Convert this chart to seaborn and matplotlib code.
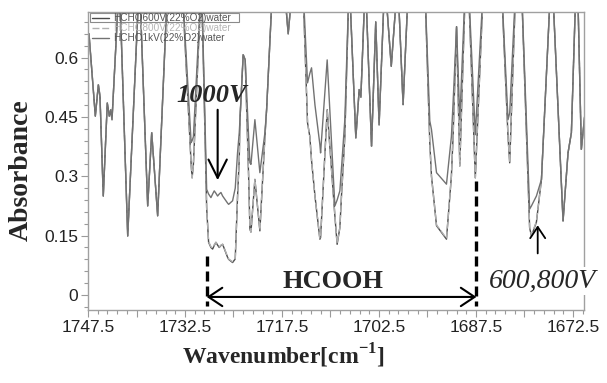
import matplotlib
matplotlib.use("Agg")
import matplotlib.pyplot as plt
from matplotlib.ticker import MultipleLocator, FuncFormatter
from matplotlib.patches import Rectangle
import pandas as pd
import seaborn as sns

# FTIR absorbance spectra of HCHO discharge products (22% O2, water)
wavenumber = [
    1747.35, 1746.37, 1745.90, 1745.65, 1745.14, 1744.52, 1744.21, 1743.99, 1743.79, 1742.65,
    1741.36, 1739.55, 1738.27, 1737.65, 1736.73, 1735.10, 1733.00, 1731.55, 1731.40, 1731.20,
    1729.95, 1729.15, 1728.85, 1728.49, 1728.23, 1727.98, 1727.72, 1727.46, 1727.21, 1726.94,
    1726.68, 1725.91, 1725.75, 1725.14, 1724.73, 1724.37, 1724.11, 1724.00, 1723.50, 1723.19,
    1722.66, 1722.46, 1722.30, 1721.69, 1720.92, 1720.14, 1719.88, 1718.90, 1717.50, 1716.54,
    1715.50, 1714.30, 1713.55, 1713.19, 1712.93, 1712.40, 1711.64, 1711.53, 1710.51, 1709.32,
    1708.97, 1708.55, 1708.30, 1707.78, 1707.10, 1706.08, 1705.56, 1705.30, 1704.60, 1703.65,
    1703.00, 1702.48, 1701.60, 1700.60, 1699.60, 1698.77, 1697.90, 1696.50, 1695.40, 1694.64,
    1694.38, 1693.60, 1692.06, 1691.30, 1691.04, 1690.50, 1690.00, 1689.10, 1688.70, 1687.60,
    1686.30, 1685.00, 1683.60, 1682.54, 1682.28, 1681.30, 1680.50, 1679.20, 1678.92, 1678.15,
    1677.37, 1675.90, 1675.70, 1674.03, 1673.26, 1672.74, 1672.00, 1671.80, 1671.20, 1670.70,
]
abs_600v = [
    0.660, 0.452, 0.531, 0.502, 0.250, 0.485, 0.452, 0.468, 0.443, 0.800,
    0.149, 0.800, 0.225, 0.410, 0.200, 0.820, 0.800, 0.330, 0.296, 0.330,
    0.800, 0.220, 0.133, 0.120, 0.116, 0.125, 0.133, 0.126, 0.120, 0.125,
    0.128, 0.095, 0.090, 0.082, 0.091, 0.250, 0.343, 0.443, 0.607, 0.594,
    0.300, 0.166, 0.159, 0.292, 0.162, 0.400, 0.468, 0.800, 0.850, 0.660,
    0.850, 0.800, 0.435, 0.400, 0.340, 0.250, 0.141, 0.145, 0.468, 0.200,
    0.128, 0.170, 0.250, 0.400, 0.800, 0.397, 0.519, 0.500, 0.800, 0.376,
    0.690, 0.430, 0.800, 0.578, 0.800, 0.481, 0.800, 0.850, 0.780, 0.385,
    0.300, 0.175, 0.141, 0.300, 0.400, 0.678, 0.326, 0.800, 0.800, 0.296,
    0.800, 0.850, 0.800, 0.400, 0.334, 0.800, 0.800, 0.170, 0.149, 0.184,
    0.292, 0.800, 0.800, 0.187, 0.359, 0.410, 0.800, 0.800, 0.368, 0.450,
]
abs_800v = [
    0.660, 0.455, 0.531, 0.505, 0.252, 0.485, 0.452, 0.468, 0.443, 0.800,
    0.152, 0.800, 0.228, 0.410, 0.205, 0.820, 0.800, 0.330, 0.296, 0.330,
    0.800, 0.220, 0.135, 0.122, 0.118, 0.127, 0.133, 0.128, 0.121, 0.126,
    0.128, 0.097, 0.091, 0.084, 0.092, 0.250, 0.343, 0.443, 0.607, 0.594,
    0.300, 0.168, 0.160, 0.292, 0.164, 0.400, 0.468, 0.800, 0.850, 0.660,
    0.850, 0.800, 0.435, 0.400, 0.340, 0.250, 0.143, 0.146, 0.468, 0.202,
    0.130, 0.170, 0.250, 0.400, 0.800, 0.397, 0.519, 0.500, 0.800, 0.376,
    0.690, 0.430, 0.800, 0.578, 0.800, 0.481, 0.800, 0.850, 0.780, 0.385,
    0.300, 0.177, 0.143, 0.300, 0.400, 0.678, 0.326, 0.800, 0.800, 0.296,
    0.800, 0.850, 0.800, 0.400, 0.334, 0.800, 0.800, 0.172, 0.151, 0.186,
    0.292, 0.800, 0.800, 0.189, 0.359, 0.410, 0.800, 0.800, 0.368, 0.450,
]
abs_1kv = [
    0.660, 0.452, 0.531, 0.502, 0.250, 0.485, 0.452, 0.468, 0.443, 0.800,
    0.149, 0.800, 0.225, 0.410, 0.200, 0.820, 0.800, 0.385, 0.390, 0.400,
    0.800, 0.267, 0.255, 0.246, 0.255, 0.263, 0.257, 0.250, 0.255, 0.259,
    0.250, 0.232, 0.229, 0.238, 0.270, 0.360, 0.410, 0.443, 0.607, 0.594,
    0.400, 0.334, 0.330, 0.443, 0.309, 0.410, 0.468, 0.800, 0.850, 0.660,
    0.850, 0.800, 0.536, 0.560, 0.574, 0.480, 0.380, 0.359, 0.594, 0.225,
    0.240, 0.263, 0.320, 0.443, 0.800, 0.397, 0.519, 0.500, 0.800, 0.376,
    0.690, 0.430, 0.800, 0.578, 0.800, 0.481, 0.800, 0.850, 0.780, 0.440,
    0.418, 0.309, 0.280, 0.400, 0.485, 0.678, 0.443, 0.800, 0.800, 0.405,
    0.800, 0.850, 0.800, 0.443, 0.460, 0.800, 0.800, 0.217, 0.225, 0.250,
    0.292, 0.800, 0.800, 0.187, 0.359, 0.410, 0.800, 0.800, 0.368, 0.450,
]
series_labels = ["HCHO600V(22%O2)water", "HCHO800V(22%O2)water", "HCHO1kV(22%O2)water"]
y_tick_values = [0, 0.15, 0.3, 0.45, 0.6]
y_tick_labels = ["0", "0.15", "0.3", "0.45", "0.6"]

sns.set_style("white")
plt.rcParams["font.family"] = ["Liberation Sans", "DejaVu Sans"]
plt.rcParams["mathtext.fontset"] = "custom"
plt.rcParams["mathtext.rm"] = "Liberation Serif"
plt.rcParams["mathtext.bf"] = "Liberation Serif:bold"
SERIF = "Liberation Serif"

frames = []
for label, values in zip(series_labels, [abs_600v, abs_800v, abs_1kv]):
    frames.append(pd.DataFrame({"wavenumber": wavenumber, "absorbance": values, "series": label}))
df = pd.concat(frames, ignore_index=True)

palette = {series_labels[0]: "#4a4a4a", series_labels[1]: "#b0b0b0", series_labels[2]: "#727272"}
dashes = {series_labels[0]: "", series_labels[1]: (5, 2), series_labels[2]: ""}

fig = plt.figure(figsize=(6.07, 3.83), dpi=100)
ax = fig.add_axes([0.145, 0.1906, 0.817, 0.778])

sns.lineplot(data=df, x="wavenumber", y="absorbance", hue="series", hue_order=series_labels,
             palette=palette, style="series", style_order=series_labels, dashes=dashes,
             estimator=None, sort=False, linewidth=1.0, ax=ax)

ax.set_xlim(1747.5, 1670.8)
ax.set_ylim(-0.038, 0.715)
ax.set_xlabel("")
ax.set_ylabel("")

# x: major ticks every 7.5, labels every 15, minor every 1.5
ax.xaxis.set_major_locator(MultipleLocator(7.5))
ax.xaxis.set_minor_locator(MultipleLocator(1.5))
def xfmt(v, pos):
    k = (1747.5 - v) / 15.0
    return f"{v:.1f}" if abs(k - round(k)) < 1e-6 else ""
ax.xaxis.set_major_formatter(FuncFormatter(xfmt))
ax.set_yticks(y_tick_values)
ax.set_yticklabels(y_tick_labels)
ax.yaxis.set_minor_locator(MultipleLocator(0.03))

ax.tick_params(axis="both", which="both", bottom=True, left=True, top=False, right=False)
ax.tick_params(axis="both", which="major", direction="out", length=5, width=0.8,
               color="#9a9a9a", labelsize=12.5, labelcolor="#222222", pad=2)
ax.tick_params(axis="both", which="minor", direction="out", length=3, width=0.8, color="#9a9a9a")
for sp in ax.spines.values():
    sp.set_color("#a0a0a0")
    sp.set_linewidth(1.0)

# legend
sns.move_legend(ax, "upper left", bbox_to_anchor=(0.006, 1.0), frameon=False, title=None,
                fontsize=7.2, handlelength=1.7, labelspacing=0.0, borderpad=0.1,
                handletextpad=0.4, borderaxespad=0)
leg = ax.get_legend()
for txt, col in zip(leg.get_texts(), ["#555555", "#b5b5b5", "#555555"]):
    txt.set_color(col)
ax.add_patch(Rectangle((0.004, 0.966), 0.3, 0.032, transform=ax.transAxes,
                       fill=False, ec="#8a8a8a", lw=0.8))

# annotations
ax.annotate("", xy=(1727.45, 0.29), xytext=(1727.45, 0.468),
            arrowprops=dict(arrowstyle="->,head_length=0.6,head_width=0.3", lw=1.5,
                            color="black", mutation_scale=22, shrinkA=0, shrinkB=0))
ax.text(1728.3, 0.505, "1000V", ha="center", va="center", fontsize=19,
        family=SERIF, style="italic", weight="bold")

ax.annotate("", xy=(1677.95, 0.176), xytext=(1677.95, 0.105),
            arrowprops=dict(arrowstyle="->,head_length=0.45,head_width=0.3", lw=1.3,
                            color="black", mutation_scale=18, shrinkA=0, shrinkB=0))
ax.text(1677.2, 0.035, "600,800V", ha="center", va="center", fontsize=20,
        family=SERIF, style="italic", clip_on=False,
        bbox=dict(boxstyle="square,pad=0.05", fc="white", ec="none"))

for xv, ytop in [(1729.15, 0.099), (1687.42, 0.288)]:
    ax.plot([xv, xv], [ytop, -0.027], color="black", lw=2.4, dashes=(3, 1.5))
ax.annotate("", xy=(1687.42, -0.005), xytext=(1729.15, -0.005),
            arrowprops=dict(arrowstyle="<->,head_length=0.45,head_width=0.3", lw=1.5,
                            color="black", mutation_scale=22, shrinkA=0, shrinkB=0))
ax.text(1709.6, 0.035, "HCOOH", ha="center", va="center", fontsize=19,
        family=SERIF, weight="bold")

fig.text(21.5 / 607, 1 - 170 / 383, "Absorbance", rotation=90, ha="center", va="center",
         fontsize=20, family=SERIF, weight="bold")
fig.text(283 / 607, 1 - 356 / 383, r"Wavenumber[cm$^{\mathbf{-1}}$]", ha="center", va="center",
         fontsize=17, family=SERIF, weight="bold")

fig.savefig("out.png", dpi=100)
